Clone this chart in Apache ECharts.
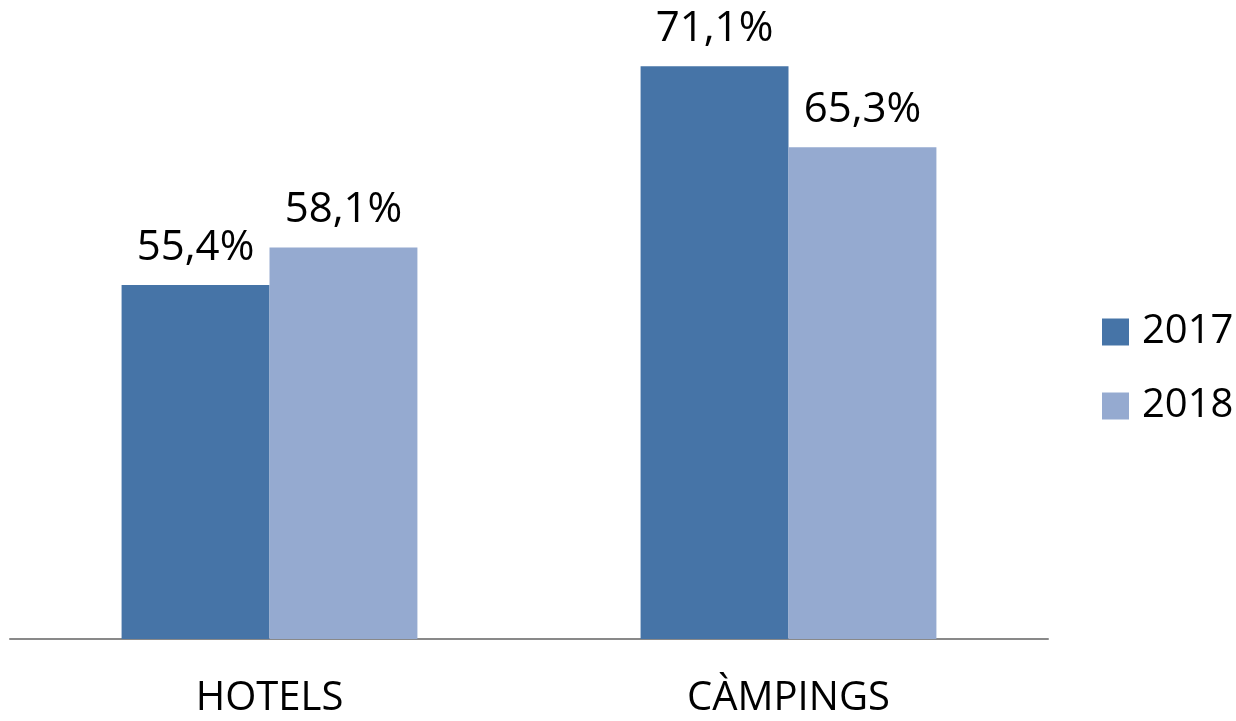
<!DOCTYPE html>
<html>
<head>
<meta charset="utf-8">
<script src="https://cdn.jsdelivr.net/npm/echarts@6/dist/echarts.min.js"></script>
<style>html,body{margin:0;padding:0;background:#fff}#c{width:1236px;height:721px}</style>
</head>
<body>
<div id="c"></div>
<script>
const categories = ['HOTELS', 'CÀMPINGS'];
const seriesNames = ['2017', '2018'];
const values2017 = [55.4, 71.1];
const values2018 = [58.1, 65.3];
const colors = ['#4674A7', '#95AAD0'];

const chart = echarts.init(document.getElementById('c'));
const FONT = 'Open Sans';
const labelCfg = {
  show: true, position: 'top', distance: 16,
  color: '#000', fontFamily: FONT, fontSize: 42,
  formatter: p => p.value.toFixed(1).replace('.', ',') + '%'
};
chart.setOption({
  animation: false,
  backgroundColor: '#fff',
  grid: { left: 10, right: 188, top: 12, bottom: 82 },
  legend: {
    orient: 'vertical', left: 1097, top: 307,
    itemWidth: 27, itemHeight: 27, itemGap: 34,
    icon: 'rect',
    textStyle: { fontFamily: FONT, fontSize: 40, lineHeight: 40, color: '#000', padding: [0, 0, 0, 8] },
    data: seriesNames
  },
  xAxis: {
    type: 'category', data: categories,
    axisLine: { lineStyle: { color: '#898989', width: 2 } },
    axisTick: { show: false },
    axisLabel: { color: '#000', fontFamily: FONT, fontSize: 40, margin: 40 }
  },
  yAxis: { type: 'value', min: 30, max: 75, show: false, splitLine: { show: false } },
  series: [
    { name: seriesNames[0], type: 'bar', data: values2017, barGap: 0, barCategoryGap: '43%',
      itemStyle: { color: colors[0] }, label: labelCfg },
    { name: seriesNames[1], type: 'bar', data: values2018, barGap: 0, barCategoryGap: '43%',
      itemStyle: { color: colors[1] }, label: labelCfg }
  ]
});
</script>
</body>
</html>
